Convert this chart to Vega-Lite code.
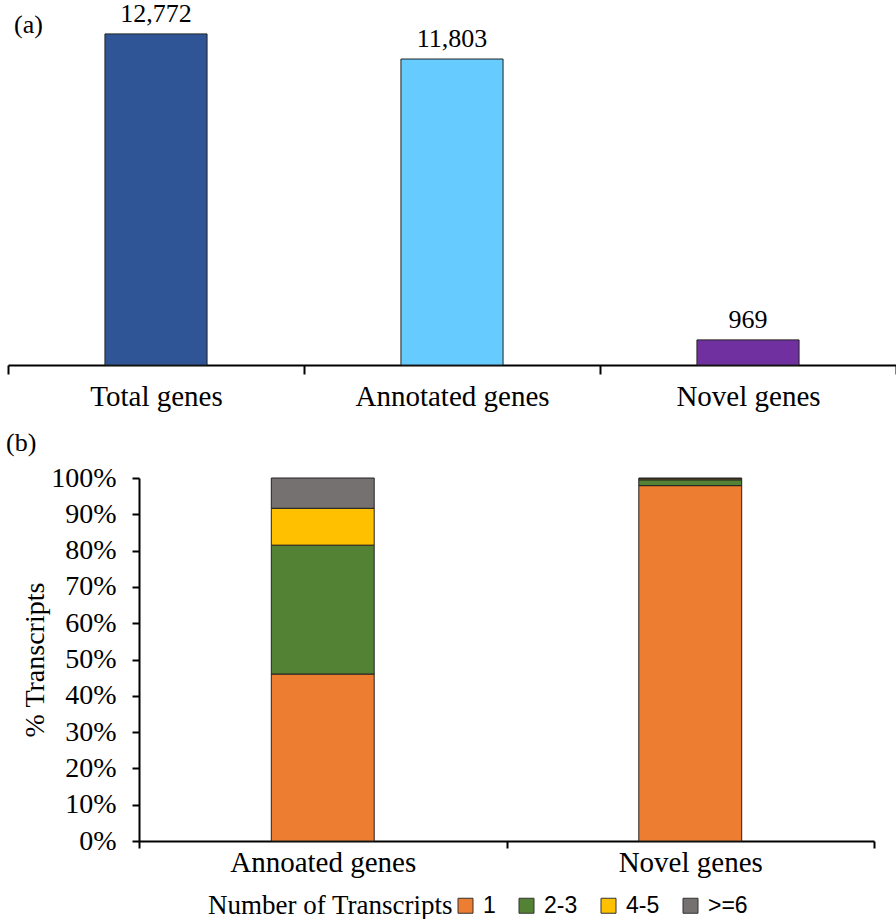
{
  "$schema": "https://vega.github.io/schema/vega-lite/v6.json",
  "padding": {"left": 6, "top": 0, "right": 2, "bottom": 0},
  "background": "white",
  "config": {"view": {"stroke": null}, "font": "Liberation Serif"},
  "spacing": 19,
  "align": "none",
  "resolve": {"scale": {"color": "independent"}, "legend": {"color": "independent"}},
  "vconcat": [
    {
      "width": 888,
      "height": 337,
      "title": {"text": "(a)", "anchor": "start", "frame": "group", "orient": "top", "offset": -58, "baseline": "alphabetic", "fontSize": 26, "fontWeight": "normal", "font": "Liberation Serif", "dx": 6, "color": "black"},
      "data": {"values": [
        {"category": "Total genes", "count": 12772},
        {"category": "Annotated genes", "count": 11803},
        {"category": "Novel genes", "count": 969}
      ]},
      "encoding": {
        "x": {"field": "category", "type": "nominal", "sort": null,
          "scale": {"paddingInner": 0, "paddingOuter": 0},
          "axis": {"title": null, "labelAngle": 0, "labelLimit": 0, "tickBand": "extent", "domainColor": "black", "domainWidth": 2, "tickColor": "black", "tickWidth": 2, "tickSize": 9, "labelFontSize": 29, "labelFont": "Liberation Serif", "labelColor": "black", "labelPadding": 8}},
        "y": {"field": "count", "type": "quantitative", "scale": {"domain": [0, 13000], "nice": false}, "axis": null}
      },
      "layer": [
        {"mark": {"type": "bar", "width": {"band": 0.345}, "stroke": "#222222", "strokeWidth": 1},
         "encoding": {"color": {"field": "category", "type": "nominal", "sort": null,
           "scale": {"domain": ["Total genes", "Annotated genes", "Novel genes"], "range": ["#2F5597", "#66CCFF", "#7030A0"]}, "legend": null}}},
        {"mark": {"type": "text", "baseline": "alphabetic", "dy": -12, "fontSize": 26, "font": "Liberation Serif", "color": "black"},
         "encoding": {"text": {"field": "count", "type": "quantitative", "format": ","}}}
      ]
    },
    {
      "width": 869,
      "height": 363,
      "title": {"text": "(b)", "anchor": "start", "frame": "group", "orient": "top", "offset": -13, "baseline": "alphabetic", "fontSize": 26, "fontWeight": "normal", "font": "Liberation Serif", "dx": -2, "color": "black"},
      "data": {"values": [
        {"group": "Annoated genes", "transcripts": "1", "share": 0.460},
        {"group": "Annoated genes", "transcripts": "2-3", "share": 0.355},
        {"group": "Annoated genes", "transcripts": "4-5", "share": 0.1015},
        {"group": "Annoated genes", "transcripts": ">=6", "share": 0.0835},
        {"group": "Novel genes", "transcripts": "1", "share": 0.979},
        {"group": "Novel genes", "transcripts": "2-3", "share": 0.016},
        {"group": "Novel genes", "transcripts": "4-5", "share": 0.003},
        {"group": "Novel genes", "transcripts": ">=6", "share": 0.002}
      ]},
      "mark": {"type": "bar", "width": {"band": 0.28}, "stroke": "#222222", "strokeWidth": 1},
      "encoding": {
        "x": {"field": "group", "type": "nominal", "sort": null,
          "scale": {"paddingInner": 0, "paddingOuter": 0, "range": [131, 866]},
          "axis": {"title": null, "labelAngle": 0, "labelLimit": 0, "tickBand": "extent", "domainColor": "black", "domainWidth": 2, "tickColor": "black", "tickWidth": 2, "tickSize": 7, "labelFontSize": 29, "labelFont": "Liberation Serif", "labelColor": "black", "labelPadding": 0}},
        "y": {"field": "share", "type": "quantitative", "stack": "zero",
          "scale": {"domain": [0, 1], "nice": false},
          "axis": {"title": "% Transcripts", "offset": -131, "format": ".0%", "values": [0, 0.1, 0.2, 0.3, 0.4, 0.5, 0.6, 0.7, 0.8, 0.9, 1.0], "grid": false,
            "domainColor": "black", "domainWidth": 2, "tickColor": "black", "tickWidth": 2, "tickSize": 7,
            "labelFontSize": 28, "labelFont": "Liberation Serif", "labelColor": "black", "labelPadding": 16,
            "titleFontSize": 28, "titleFont": "Liberation Serif", "titleFontWeight": "normal", "titleColor": "black", "titlePadding": 1}},
        "order": {"field": "transcripts", "sort": "ascending"},
        "color": {"field": "transcripts", "type": "nominal",
          "scale": {"domain": ["1", "2-3", "4-5", ">=6"], "range": ["#ED7D31", "#548235", "#FFC000", "#767171"]},
          "legend": {"title": "Number of Transcripts", "orient": "none", "legendX": 200, "legendY": 416, "direction": "horizontal",
            "titleOrient": "left", "titleLimit": 0, "titleFont": "Liberation Serif", "titleFontSize": 27, "titleFontWeight": "normal", "titleColor": "black", "titlePadding": 1,
            "labelFont": "Liberation Sans", "labelFontSize": 23, "labelColor": "black", "labelOffset": 6,
            "symbolType": "square", "symbolSize": 225, "symbolStrokeColor": "#333333", "symbolStrokeWidth": 1, "symbolOpacity": 1, "columnPadding": 19}}
      }
    }
  ]
}
